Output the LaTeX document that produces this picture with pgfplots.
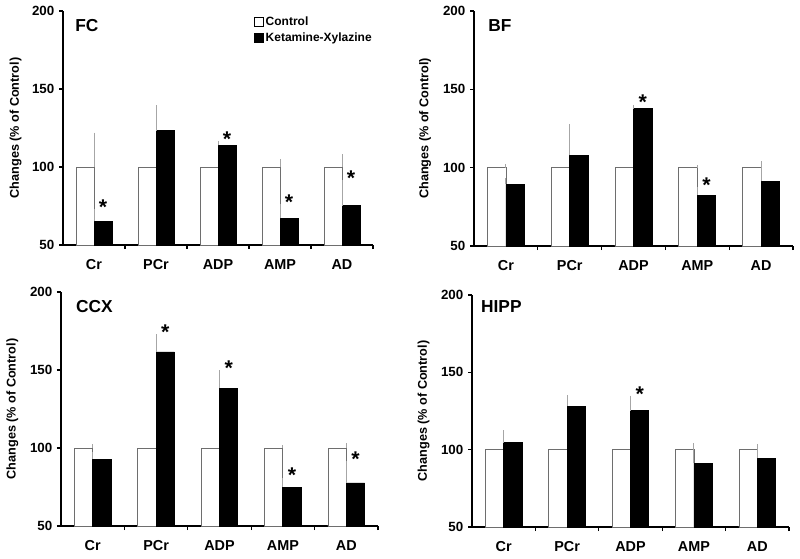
\documentclass[border=0pt]{standalone}
\usepackage{fontspec}
\setmainfont{Liberation Sans}
\usepackage{pgfplots}
\pgfplotsset{compat=1.18}
\usepackage{pgfplotstable}

\definecolor{errgrey}{HTML}{A6A6A6}
\definecolor{edgegrey}{HTML}{6E6E6E}

% x, control, control SEM, ketamine-xylazine, its SEM, star height (nan = none)
\pgfplotstableread{
x ctrl cerr kx kerr star
0 100 22.0 65.2 7.8 77.5
1 100 29.4 123.2 16.3 nan
2 100 4.1 113.8 3.0 121.5
3 100 5.2 67.0 9.2 80.7
4 100 8.2 75.1 16.7 96.0
}\fctab
\pgfplotstableread{
x ctrl cerr kx kerr star
0 100 2.1 89.3 4.0 nan
1 100 9.0 107.9 20.0 nan
2 100 9.0 137.6 2.5 145.0
3 100 1.5 82.4 5.2 92.0
4 100 3.0 91.2 13.0 nan
}\bftab
\pgfplotstableread{
x ctrl cerr kx kerr star
0 100 2.4 92.7 4.5 nan
1 100 8.6 161.6 11.2 177.8
2 100 8.6 138.4 11.4 154.5
3 100 1.7 75.0 5.6 85.8
4 100 3.0 77.6 13.8 96.0
}\ccxtab
\pgfplotstableread{
x ctrl cerr kx kerr star
0 100 2.6 104.4 8.3 nan
1 100 11.1 128.2 7.2 nan
2 100 5.0 125.1 9.8 139.6
3 100 4.1 91.3 10.9 nan
4 100 3.7 94.3 6.0 nan
}\hipptab

\tikzset{ttl/.style={anchor=west, inner sep=0pt, font=\fontsize{13}{15}\selectfont\bfseries}}

\pgfplotsset{
  panel/.style={
    scale only axis, anchor=south west,
    xmin=-0.5, xmax=4.5, ymin=50, ymax=200,
    axis x line*=bottom, axis y line*=left,
    axis line style={-, line width=1.1pt},
    xtick={0.5,1.5,2.5,3.5,4.5}, xticklabels={,,,,,},
    extra x ticks={0,1,2,3,4},
    extra x tick labels={Cr,PCr,ADP,AMP,AD},
    extra x tick style={major tick length=0pt},
    ytick={50,100,150,200},
    tick align=outside, major tick length=3pt,
    tick style={black, line width=0.9pt},
    tick label style={font=\fontsize{10}{12}\selectfont\bfseries},
    x tick label style={font=\fontsize{10.8}{12}\selectfont\bfseries, yshift=-7.5pt},
    /pgf/number format/assume math mode=true,
    ylabel={Changes (\% of Control)},
    ylabel style={font=\fontsize{9.5}{11}\selectfont\bfseries,
                  at={(axis description cs:-0.153,0.5)}, anchor=center},
    clip=false,
  },
  ctrl/.style={ybar, bar width=0.29, bar shift=-0.145, fill=white,
    draw=edgegrey, line width=0.6pt, forget plot,
    error bars/y dir=plus, error bars/y explicit, error bars/error mark=none,
    error bars/error bar style={errgrey, line width=0.75pt}},
  kx/.style={ybar, bar width=0.29, bar shift=0.145, fill=black,
    draw=black, line width=0.6pt, forget plot,
    error bars/y dir=plus, error bars/y explicit, error bars/error mark=none,
    error bars/error bar style={errgrey, line width=0.75pt}},
  stars/.style={only marks, black, forget plot, mark=text, text mark={*},
    text mark as node=true,
    text mark style={font=\fontsize{16}{16}\selectfont\bfseries, inner sep=0pt, yshift=-4pt}},
}

\newcommand{\bars}[1]{%
  \addplot[ctrl] table[x=x, y=ctrl, y error=cerr] {#1};
  \addplot[kx] table[x=x, y=kx, y error=kerr] {#1};
  \addplot[stars] table[x expr=\thisrow{x}+0.145, y=star] {#1};
}

\begin{document}
\begin{tikzpicture}
\useasboundingbox (0,0) rectangle (600pt,418.5pt);

\begin{axis}[panel, at={(47.25pt,234.75pt)}, width=232.5pt, height=175.5pt,
  legend style={draw=none, fill=none, at={(rel axis cs:0.615,0.985)}, anchor=north west,
    font=\fontsize{9}{10}\selectfont\bfseries, inner sep=0pt, row sep=1pt,
    nodes={inner sep=1.5pt}},
  legend cell align=left]
\bars{\fctab}
\addlegendimage{legend image code/.code={\draw[fill=white, draw=black, line width=0.6pt] (0pt,-3.4pt) rectangle (6.75pt,3.4pt);}}
\addlegendentry{Control}
\addlegendimage{legend image code/.code={\draw[fill=black, draw=black, line width=0.6pt] (0pt,-3.4pt) rectangle (6.75pt,3.4pt);}}
\addlegendentry{Ketamine-Xylazine}
\node[ttl] at (rel axis cs:0.039,0.936) {FC};
\end{axis}

\begin{axis}[panel, at={(355.5pt,234pt)}, width=239.25pt, height=176.25pt]
\bars{\bftab}
\node[ttl] at (rel axis cs:0.044,0.94) {BF};
\end{axis}

\begin{axis}[panel, at={(45.75pt,24pt)}, width=237.75pt, height=175.5pt]
\bars{\ccxtab}
\node[ttl] at (rel axis cs:0.047,0.936) {CCX};
\end{axis}

\begin{axis}[panel, at={(354pt,23.25pt)}, width=237.75pt, height=174pt]
\bars{\hipptab}
\node[ttl] at (rel axis cs:0.028,0.95) {HIPP};
\end{axis}
\end{tikzpicture}
\end{document}
